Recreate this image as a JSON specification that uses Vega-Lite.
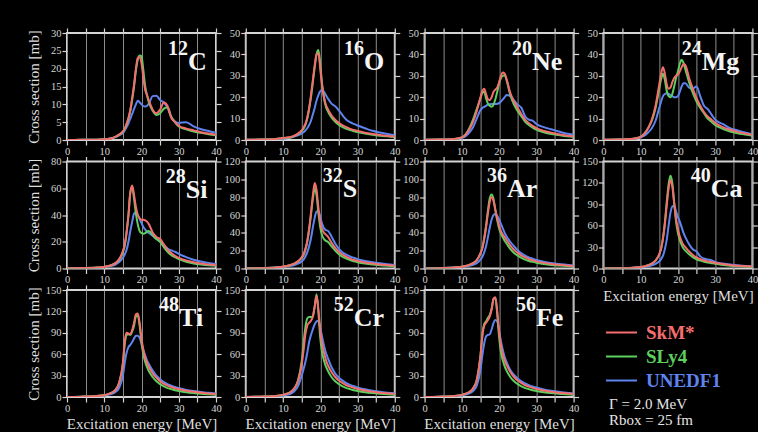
{
"$schema":"https://vega.github.io/schema/vega-lite/v6.json",
"background":"black",
"padding":{"left":24,"top":26,"right":2,"bottom":5},
"datasets":{"d":[
{"n":"C","e":0,"SkM*":0,"SLy4":0,"UNEDF1":0},{"n":"C","e":4,"SkM*":0.05,"SLy4":0.05,"UNEDF1":0.05},{"n":"C","e":8,"SkM*":0.1,"SLy4":0.1,"UNEDF1":0.1},{"n":"C","e":10,"SkM*":0.2,"SLy4":0.2,"UNEDF1":0.2},{"n":"C","e":11,"SkM*":0.3,"SLy4":0.3,"UNEDF1":0.3},{"n":"C","e":12,"SkM*":0.5,"SLy4":0.5,"UNEDF1":0.5},{"n":"C","e":13,"SkM*":0.9,"SLy4":0.9,"UNEDF1":0.8},{"n":"C","e":14,"SkM*":1.5,"SLy4":1.5,"UNEDF1":1.3},{"n":"C","e":15,"SkM*":2.4,"SLy4":2.3,"UNEDF1":2},{"n":"C","e":15.5,"SkM*":3.2,"SLy4":3.1,"UNEDF1":2.7},{"n":"C","e":16,"SkM*":4.5,"SLy4":4.4,"UNEDF1":3.6},{"n":"C","e":16.5,"SkM*":6.2,"SLy4":6,"UNEDF1":4.7},{"n":"C","e":17,"SkM*":8.4,"SLy4":8.2,"UNEDF1":6},{"n":"C","e":17.5,"SkM*":11.8,"SLy4":11.3,"UNEDF1":7.3},{"n":"C","e":18,"SkM*":15.5,"SLy4":15,"UNEDF1":8.7},{"n":"C","e":18.5,"SkM*":20,"SLy4":19.5,"UNEDF1":10},{"n":"C","e":19,"SkM*":23,"SLy4":22.5,"UNEDF1":11},{"n":"C","e":19.5,"SkM*":23.3,"SLy4":23.7,"UNEDF1":10.6},{"n":"C","e":20,"SkM*":21.5,"SLy4":23.5,"UNEDF1":10},{"n":"C","e":20.5,"SkM*":17.5,"SLy4":19.5,"UNEDF1":9.5},{"n":"C","e":21,"SkM*":14,"SLy4":15,"UNEDF1":9.4},{"n":"C","e":21.5,"SkM*":12.5,"SLy4":12.5,"UNEDF1":9.6},{"n":"C","e":22,"SkM*":11,"SLy4":10.5,"UNEDF1":10.3},{"n":"C","e":23,"SkM*":8.5,"SLy4":8.2,"UNEDF1":12.3},{"n":"C","e":24,"SkM*":7.5,"SLy4":7,"UNEDF1":12.4},{"n":"C","e":25,"SkM*":8.5,"SLy4":7.5,"UNEDF1":11.2},{"n":"C","e":26,"SkM*":10.5,"SLy4":8.8,"UNEDF1":10.5},{"n":"C","e":27,"SkM*":9.5,"SLy4":9.2,"UNEDF1":9},{"n":"C","e":28,"SkM*":6.2,"SLy4":6.5,"UNEDF1":6.3},{"n":"C","e":29,"SkM*":5,"SLy4":5,"UNEDF1":5.2},{"n":"C","e":30,"SkM*":4,"SLy4":3.8,"UNEDF1":4.8},{"n":"C","e":32,"SkM*":3.2,"SLy4":3,"UNEDF1":5},{"n":"C","e":34,"SkM*":2.7,"SLy4":2.4,"UNEDF1":3.8},{"n":"C","e":36,"SkM*":2.2,"SLy4":2,"UNEDF1":3},{"n":"C","e":38,"SkM*":1.8,"SLy4":1.6,"UNEDF1":2.5},{"n":"C","e":40,"SkM*":1.5,"SLy4":1.3,"UNEDF1":2},
{"n":"O","e":0,"SkM*":0.1,"SLy4":0.1,"UNEDF1":0.1},{"n":"O","e":4,"SkM*":0.2,"SLy4":0.2,"UNEDF1":0.2},{"n":"O","e":8,"SkM*":0.5,"SLy4":0.5,"UNEDF1":0.4},{"n":"O","e":10,"SkM*":0.9,"SLy4":0.8,"UNEDF1":0.6},{"n":"O","e":11,"SkM*":1.2,"SLy4":1,"UNEDF1":0.8},{"n":"O","e":12,"SkM*":1.4,"SLy4":1.2,"UNEDF1":1.1},{"n":"O","e":13,"SkM*":2,"SLy4":1.8,"UNEDF1":1.6},{"n":"O","e":14,"SkM*":3,"SLy4":2.8,"UNEDF1":2.2},{"n":"O","e":15,"SkM*":4.5,"SLy4":4.2,"UNEDF1":3},{"n":"O","e":15.5,"SkM*":5.8,"SLy4":5.3,"UNEDF1":3.6},{"n":"O","e":16,"SkM*":7.5,"SLy4":7,"UNEDF1":4.5},{"n":"O","e":16.5,"SkM*":10.5,"SLy4":10,"UNEDF1":5.5},{"n":"O","e":17,"SkM*":15,"SLy4":14.5,"UNEDF1":7},{"n":"O","e":17.5,"SkM*":21,"SLy4":20,"UNEDF1":9},{"n":"O","e":18,"SkM*":28,"SLy4":27,"UNEDF1":12},{"n":"O","e":18.5,"SkM*":35,"SLy4":34,"UNEDF1":15},{"n":"O","e":19,"SkM*":40,"SLy4":40,"UNEDF1":18.5},{"n":"O","e":19.5,"SkM*":40.5,"SLy4":42,"UNEDF1":21},{"n":"O","e":20,"SkM*":33,"SLy4":35,"UNEDF1":22.8},{"n":"O","e":20.5,"SkM*":25,"SLy4":26,"UNEDF1":23.3},{"n":"O","e":21,"SkM*":20,"SLy4":19.5,"UNEDF1":22.5},{"n":"O","e":21.5,"SkM*":16.5,"SLy4":15.5,"UNEDF1":21},{"n":"O","e":22,"SkM*":14.5,"SLy4":13.5,"UNEDF1":19.5},{"n":"O","e":23,"SkM*":11.5,"SLy4":10.5,"UNEDF1":17},{"n":"O","e":24,"SkM*":9.5,"SLy4":8.5,"UNEDF1":15.8},{"n":"O","e":25,"SkM*":8,"SLy4":7,"UNEDF1":13.8},{"n":"O","e":26,"SkM*":6.8,"SLy4":6,"UNEDF1":11.5},{"n":"O","e":27,"SkM*":6,"SLy4":5.2,"UNEDF1":9.5},{"n":"O","e":28,"SkM*":5.2,"SLy4":4.6,"UNEDF1":8.3},{"n":"O","e":29,"SkM*":4.7,"SLy4":4.1,"UNEDF1":7.5},{"n":"O","e":30,"SkM*":4.2,"SLy4":3.7,"UNEDF1":6.8},{"n":"O","e":32,"SkM*":3.4,"SLy4":3,"UNEDF1":5.5},{"n":"O","e":34,"SkM*":2.8,"SLy4":2.4,"UNEDF1":4.3},{"n":"O","e":36,"SkM*":2.3,"SLy4":2,"UNEDF1":3.5},{"n":"O","e":38,"SkM*":1.9,"SLy4":1.7,"UNEDF1":2.8},{"n":"O","e":40,"SkM*":1.6,"SLy4":1.4,"UNEDF1":2.2},
{"n":"Ne","e":0,"SkM*":0.1,"SLy4":0.1,"UNEDF1":0.1},{"n":"Ne","e":4,"SkM*":0.2,"SLy4":0.2,"UNEDF1":0.2},{"n":"Ne","e":8,"SkM*":0.5,"SLy4":0.5,"UNEDF1":0.4},{"n":"Ne","e":10,"SkM*":1.2,"SLy4":1.2,"UNEDF1":1},{"n":"Ne","e":11,"SkM*":2.5,"SLy4":2.6,"UNEDF1":1.8},{"n":"Ne","e":12,"SkM*":5,"SLy4":5.5,"UNEDF1":3.5},{"n":"Ne","e":13,"SkM*":8.5,"SLy4":9.5,"UNEDF1":6},{"n":"Ne","e":14,"SkM*":13.5,"SLy4":14.5,"UNEDF1":10},{"n":"Ne","e":15,"SkM*":20,"SLy4":19.5,"UNEDF1":14},{"n":"Ne","e":15.5,"SkM*":23,"SLy4":22,"UNEDF1":15},{"n":"Ne","e":16,"SkM*":24,"SLy4":22.5,"UNEDF1":15.5},{"n":"Ne","e":16.5,"SkM*":21.5,"SLy4":19.5,"UNEDF1":16},{"n":"Ne","e":17,"SkM*":19,"SLy4":17,"UNEDF1":16.5},{"n":"Ne","e":17.5,"SkM*":18.6,"SLy4":16,"UNEDF1":16.7},{"n":"Ne","e":18,"SkM*":20,"SLy4":15.5,"UNEDF1":16.8},{"n":"Ne","e":18.5,"SkM*":22.5,"SLy4":16.5,"UNEDF1":16.8},{"n":"Ne","e":19,"SkM*":23.5,"SLy4":19,"UNEDF1":16.8},{"n":"Ne","e":19.5,"SkM*":24.5,"SLy4":22.5,"UNEDF1":16.9},{"n":"Ne","e":20,"SkM*":27,"SLy4":26.5,"UNEDF1":17.2},{"n":"Ne","e":20.5,"SkM*":30,"SLy4":29,"UNEDF1":18},{"n":"Ne","e":21,"SkM*":31.5,"SLy4":30,"UNEDF1":19},{"n":"Ne","e":21.5,"SkM*":31,"SLy4":30.3,"UNEDF1":20},{"n":"Ne","e":22,"SkM*":28.5,"SLy4":28,"UNEDF1":21},{"n":"Ne","e":23,"SkM*":22,"SLy4":21,"UNEDF1":20.5},{"n":"Ne","e":24,"SkM*":18,"SLy4":16.5,"UNEDF1":18.5},{"n":"Ne","e":25,"SkM*":15,"SLy4":13.5,"UNEDF1":16.5},{"n":"Ne","e":26,"SkM*":12,"SLy4":11,"UNEDF1":15},{"n":"Ne","e":27,"SkM*":9.5,"SLy4":8.5,"UNEDF1":11},{"n":"Ne","e":28,"SkM*":7.8,"SLy4":7,"UNEDF1":9.5},{"n":"Ne","e":29,"SkM*":6.6,"SLy4":5.8,"UNEDF1":9},{"n":"Ne","e":30,"SkM*":5.6,"SLy4":4.8,"UNEDF1":7.5},{"n":"Ne","e":32,"SkM*":4.2,"SLy4":3.6,"UNEDF1":6},{"n":"Ne","e":34,"SkM*":3.4,"SLy4":2.8,"UNEDF1":5},{"n":"Ne","e":36,"SkM*":2.7,"SLy4":2.3,"UNEDF1":4},{"n":"Ne","e":38,"SkM*":2.1,"SLy4":1.8,"UNEDF1":3},{"n":"Ne","e":40,"SkM*":1.7,"SLy4":1.5,"UNEDF1":2.5},
{"n":"Mg","e":0,"SkM*":0.1,"SLy4":0.1,"UNEDF1":0.1},{"n":"Mg","e":4,"SkM*":0.2,"SLy4":0.2,"UNEDF1":0.2},{"n":"Mg","e":8,"SkM*":0.6,"SLy4":0.6,"UNEDF1":0.5},{"n":"Mg","e":10,"SkM*":1.5,"SLy4":1.5,"UNEDF1":1.2},{"n":"Mg","e":11,"SkM*":3,"SLy4":3,"UNEDF1":2},{"n":"Mg","e":12,"SkM*":5.5,"SLy4":5.5,"UNEDF1":3.5},{"n":"Mg","e":13,"SkM*":9.5,"SLy4":9,"UNEDF1":5.5},{"n":"Mg","e":14,"SkM*":16,"SLy4":15,"UNEDF1":9},{"n":"Mg","e":15,"SkM*":26,"SLy4":24,"UNEDF1":15},{"n":"Mg","e":15.5,"SkM*":31,"SLy4":28.5,"UNEDF1":18},{"n":"Mg","e":16,"SkM*":34,"SLy4":31,"UNEDF1":20.5},{"n":"Mg","e":16.5,"SkM*":31,"SLy4":28,"UNEDF1":21.5},{"n":"Mg","e":17,"SkM*":26,"SLy4":23,"UNEDF1":21.8},{"n":"Mg","e":17.5,"SkM*":24,"SLy4":20.5,"UNEDF1":21.5},{"n":"Mg","e":18,"SkM*":24.5,"SLy4":20,"UNEDF1":21},{"n":"Mg","e":18.5,"SkM*":27,"SLy4":21.5,"UNEDF1":20.5},{"n":"Mg","e":19,"SkM*":29,"SLy4":25,"UNEDF1":20},{"n":"Mg","e":19.5,"SkM*":30,"SLy4":29,"UNEDF1":20},{"n":"Mg","e":20,"SkM*":30.5,"SLy4":32,"UNEDF1":20.5},{"n":"Mg","e":20.5,"SkM*":32,"SLy4":35.5,"UNEDF1":22.5},{"n":"Mg","e":21,"SkM*":34,"SLy4":37.5,"UNEDF1":25},{"n":"Mg","e":21.5,"SkM*":35.5,"SLy4":36,"UNEDF1":26.5},{"n":"Mg","e":22,"SkM*":35,"SLy4":33,"UNEDF1":26.5},{"n":"Mg","e":23,"SkM*":29,"SLy4":27,"UNEDF1":24.5},{"n":"Mg","e":24,"SkM*":24,"SLy4":22,"UNEDF1":24},{"n":"Mg","e":25,"SkM*":19.5,"SLy4":18,"UNEDF1":25},{"n":"Mg","e":26,"SkM*":16,"SLy4":15,"UNEDF1":20.5},{"n":"Mg","e":27,"SkM*":13,"SLy4":12.5,"UNEDF1":16},{"n":"Mg","e":28,"SkM*":11,"SLy4":10,"UNEDF1":14.5},{"n":"Mg","e":29,"SkM*":9.5,"SLy4":8.5,"UNEDF1":12},{"n":"Mg","e":30,"SkM*":8,"SLy4":7,"UNEDF1":9.5},{"n":"Mg","e":32,"SkM*":6,"SLy4":5.2,"UNEDF1":7.5},{"n":"Mg","e":34,"SkM*":4.8,"SLy4":4,"UNEDF1":5.5},{"n":"Mg","e":36,"SkM*":3.8,"SLy4":3.2,"UNEDF1":4.5},{"n":"Mg","e":38,"SkM*":3,"SLy4":2.6,"UNEDF1":3.5},{"n":"Mg","e":40,"SkM*":2.4,"SLy4":2,"UNEDF1":2.7},
{"n":"Si","e":0,"SkM*":0.1,"SLy4":0.1,"UNEDF1":0.1},{"n":"Si","e":4,"SkM*":0.3,"SLy4":0.3,"UNEDF1":0.3},{"n":"Si","e":8,"SkM*":0.7,"SLy4":0.7,"UNEDF1":0.6},{"n":"Si","e":10,"SkM*":1.2,"SLy4":1.2,"UNEDF1":1},{"n":"Si","e":11,"SkM*":1.8,"SLy4":1.8,"UNEDF1":1.4},{"n":"Si","e":12,"SkM*":2.6,"SLy4":2.6,"UNEDF1":2},{"n":"Si","e":13,"SkM*":4,"SLy4":4,"UNEDF1":3},{"n":"Si","e":14,"SkM*":7,"SLy4":6.5,"UNEDF1":4.8},{"n":"Si","e":15,"SkM*":13,"SLy4":12,"UNEDF1":8},{"n":"Si","e":15.5,"SkM*":18,"SLy4":17,"UNEDF1":10.5},{"n":"Si","e":16,"SkM*":27,"SLy4":27,"UNEDF1":14},{"n":"Si","e":16.5,"SkM*":40,"SLy4":40,"UNEDF1":20},{"n":"Si","e":17,"SkM*":57,"SLy4":57,"UNEDF1":28},{"n":"Si","e":17.5,"SkM*":62,"SLy4":61,"UNEDF1":35},{"n":"Si","e":18,"SkM*":55,"SLy4":52,"UNEDF1":41},{"n":"Si","e":18.5,"SkM*":46,"SLy4":41,"UNEDF1":42},{"n":"Si","e":19,"SkM*":40,"SLy4":33,"UNEDF1":40},{"n":"Si","e":19.5,"SkM*":37.5,"SLy4":28,"UNEDF1":37},{"n":"Si","e":20,"SkM*":36.5,"SLy4":26.5,"UNEDF1":34},{"n":"Si","e":20.5,"SkM*":36.5,"SLy4":26,"UNEDF1":31},{"n":"Si","e":21,"SkM*":36,"SLy4":26.5,"UNEDF1":29},{"n":"Si","e":21.5,"SkM*":35,"SLy4":27.5,"UNEDF1":27.5},{"n":"Si","e":22,"SkM*":33,"SLy4":28,"UNEDF1":26.5},{"n":"Si","e":23,"SkM*":27,"SLy4":25,"UNEDF1":24.5},{"n":"Si","e":24,"SkM*":23.5,"SLy4":22,"UNEDF1":22},{"n":"Si","e":25,"SkM*":22,"SLy4":20,"UNEDF1":20},{"n":"Si","e":26,"SkM*":18,"SLy4":16,"UNEDF1":17.5},{"n":"Si","e":27,"SkM*":14,"SLy4":12.5,"UNEDF1":15},{"n":"Si","e":28,"SkM*":11.5,"SLy4":10,"UNEDF1":13.5},{"n":"Si","e":29,"SkM*":9.5,"SLy4":8.5,"UNEDF1":12.5},{"n":"Si","e":30,"SkM*":8,"SLy4":7,"UNEDF1":11},{"n":"Si","e":32,"SkM*":6,"SLy4":5,"UNEDF1":8.5},{"n":"Si","e":34,"SkM*":4.7,"SLy4":3.8,"UNEDF1":6.5},{"n":"Si","e":36,"SkM*":3.8,"SLy4":3,"UNEDF1":5.2},{"n":"Si","e":38,"SkM*":3,"SLy4":2.4,"UNEDF1":4.2},{"n":"Si","e":40,"SkM*":2.4,"SLy4":2,"UNEDF1":3.4},
{"n":"S","e":0,"SkM*":0.1,"SLy4":0.1,"UNEDF1":0.1},{"n":"S","e":4,"SkM*":0.4,"SLy4":0.4,"UNEDF1":0.3},{"n":"S","e":8,"SkM*":1.2,"SLy4":1.2,"UNEDF1":1},{"n":"S","e":10,"SkM*":2,"SLy4":2,"UNEDF1":1.5},{"n":"S","e":11,"SkM*":2.8,"SLy4":2.8,"UNEDF1":2.2},{"n":"S","e":12,"SkM*":4,"SLy4":4,"UNEDF1":3},{"n":"S","e":13,"SkM*":5.5,"SLy4":5.5,"UNEDF1":4},{"n":"S","e":14,"SkM*":8,"SLy4":8,"UNEDF1":5.5},{"n":"S","e":15,"SkM*":12.5,"SLy4":12,"UNEDF1":8},{"n":"S","e":15.5,"SkM*":16,"SLy4":15,"UNEDF1":10},{"n":"S","e":16,"SkM*":22,"SLy4":21,"UNEDF1":13.5},{"n":"S","e":16.5,"SkM*":31,"SLy4":30,"UNEDF1":18},{"n":"S","e":17,"SkM*":45,"SLy4":43,"UNEDF1":25},{"n":"S","e":17.5,"SkM*":63,"SLy4":60,"UNEDF1":34},{"n":"S","e":18,"SkM*":82,"SLy4":78,"UNEDF1":46},{"n":"S","e":18.5,"SkM*":96,"SLy4":90,"UNEDF1":57},{"n":"S","e":19,"SkM*":88,"SLy4":82,"UNEDF1":64},{"n":"S","e":19.5,"SkM*":68,"SLy4":62,"UNEDF1":64},{"n":"S","e":20,"SkM*":52,"SLy4":46,"UNEDF1":58},{"n":"S","e":20.5,"SkM*":44,"SLy4":37,"UNEDF1":50},{"n":"S","e":21,"SkM*":40,"SLy4":33,"UNEDF1":45},{"n":"S","e":21.5,"SkM*":38,"SLy4":31,"UNEDF1":43},{"n":"S","e":22,"SkM*":36,"SLy4":30,"UNEDF1":42.5},{"n":"S","e":23,"SkM*":29,"SLy4":25,"UNEDF1":36},{"n":"S","e":24,"SkM*":23,"SLy4":20,"UNEDF1":28},{"n":"S","e":25,"SkM*":18.5,"SLy4":16,"UNEDF1":22},{"n":"S","e":26,"SkM*":15.5,"SLy4":13,"UNEDF1":18},{"n":"S","e":27,"SkM*":13,"SLy4":11,"UNEDF1":15.5},{"n":"S","e":28,"SkM*":11,"SLy4":9.5,"UNEDF1":13.5},{"n":"S","e":29,"SkM*":9.5,"SLy4":8,"UNEDF1":12},{"n":"S","e":30,"SkM*":8.5,"SLy4":7,"UNEDF1":10.5},{"n":"S","e":32,"SkM*":6.8,"SLy4":5.5,"UNEDF1":8.5},{"n":"S","e":34,"SkM*":5.5,"SLy4":4.4,"UNEDF1":7},{"n":"S","e":36,"SkM*":4.5,"SLy4":3.6,"UNEDF1":5.8},{"n":"S","e":38,"SkM*":3.8,"SLy4":3,"UNEDF1":4.8},{"n":"S","e":40,"SkM*":3.2,"SLy4":2.5,"UNEDF1":4},
{"n":"Ar","e":0,"SkM*":0.1,"SLy4":0.1,"UNEDF1":0.1},{"n":"Ar","e":4,"SkM*":0.4,"SLy4":0.4,"UNEDF1":0.3},{"n":"Ar","e":8,"SkM*":1.2,"SLy4":1.2,"UNEDF1":1},{"n":"Ar","e":10,"SkM*":2,"SLy4":2,"UNEDF1":1.6},{"n":"Ar","e":11,"SkM*":2.8,"SLy4":2.8,"UNEDF1":2.2},{"n":"Ar","e":12,"SkM*":4,"SLy4":4,"UNEDF1":3},{"n":"Ar","e":13,"SkM*":6,"SLy4":6,"UNEDF1":4.2},{"n":"Ar","e":14,"SkM*":9.5,"SLy4":9.5,"UNEDF1":6},{"n":"Ar","e":15,"SkM*":17,"SLy4":17,"UNEDF1":10},{"n":"Ar","e":15.5,"SkM*":23,"SLy4":23,"UNEDF1":13},{"n":"Ar","e":16,"SkM*":33,"SLy4":34,"UNEDF1":18},{"n":"Ar","e":16.5,"SkM*":46,"SLy4":48,"UNEDF1":25},{"n":"Ar","e":17,"SkM*":62,"SLy4":65,"UNEDF1":35},{"n":"Ar","e":17.5,"SkM*":75,"SLy4":79,"UNEDF1":46},{"n":"Ar","e":18,"SkM*":80,"SLy4":83,"UNEDF1":55},{"n":"Ar","e":18.5,"SkM*":76,"SLy4":78,"UNEDF1":60},{"n":"Ar","e":19,"SkM*":66,"SLy4":65,"UNEDF1":61},{"n":"Ar","e":19.5,"SkM*":56,"SLy4":54,"UNEDF1":59},{"n":"Ar","e":20,"SkM*":48,"SLy4":45,"UNEDF1":55},{"n":"Ar","e":20.5,"SkM*":42,"SLy4":39,"UNEDF1":50},{"n":"Ar","e":21,"SkM*":38,"SLy4":35,"UNEDF1":45},{"n":"Ar","e":21.5,"SkM*":35,"SLy4":31,"UNEDF1":40},{"n":"Ar","e":22,"SkM*":32,"SLy4":28,"UNEDF1":36},{"n":"Ar","e":23,"SkM*":26,"SLy4":22,"UNEDF1":30},{"n":"Ar","e":24,"SkM*":21,"SLy4":17.5,"UNEDF1":25},{"n":"Ar","e":25,"SkM*":17.5,"SLy4":14.5,"UNEDF1":20.5},{"n":"Ar","e":26,"SkM*":14.5,"SLy4":12,"UNEDF1":17},{"n":"Ar","e":27,"SkM*":12.5,"SLy4":10,"UNEDF1":14.5},{"n":"Ar","e":28,"SkM*":10.5,"SLy4":8.5,"UNEDF1":12.5},{"n":"Ar","e":29,"SkM*":9.2,"SLy4":7.4,"UNEDF1":11},{"n":"Ar","e":30,"SkM*":8,"SLy4":6.5,"UNEDF1":9.5},{"n":"Ar","e":32,"SkM*":6.3,"SLy4":5,"UNEDF1":7.5},{"n":"Ar","e":34,"SkM*":5.1,"SLy4":4,"UNEDF1":6.2},{"n":"Ar","e":36,"SkM*":4.2,"SLy4":3.3,"UNEDF1":5},{"n":"Ar","e":38,"SkM*":3.5,"SLy4":2.7,"UNEDF1":4.2},{"n":"Ar","e":40,"SkM*":2.9,"SLy4":2.3,"UNEDF1":3.5},
{"n":"Ca","e":0,"SkM*":0.1,"SLy4":0.1,"UNEDF1":0.1},{"n":"Ca","e":4,"SkM*":0.4,"SLy4":0.4,"UNEDF1":0.3},{"n":"Ca","e":8,"SkM*":1.2,"SLy4":1.2,"UNEDF1":0.9},{"n":"Ca","e":10,"SkM*":2,"SLy4":2,"UNEDF1":1.5},{"n":"Ca","e":11,"SkM*":3,"SLy4":3,"UNEDF1":2.2},{"n":"Ca","e":12,"SkM*":4.5,"SLy4":4.5,"UNEDF1":3.2},{"n":"Ca","e":13,"SkM*":7,"SLy4":7,"UNEDF1":4.5},{"n":"Ca","e":14,"SkM*":11,"SLy4":11,"UNEDF1":6.5},{"n":"Ca","e":15,"SkM*":20,"SLy4":20,"UNEDF1":10},{"n":"Ca","e":15.5,"SkM*":28,"SLy4":28,"UNEDF1":13},{"n":"Ca","e":16,"SkM*":42,"SLy4":43,"UNEDF1":18},{"n":"Ca","e":16.5,"SkM*":62,"SLy4":65,"UNEDF1":27},{"n":"Ca","e":17,"SkM*":88,"SLy4":93,"UNEDF1":40},{"n":"Ca","e":17.5,"SkM*":112,"SLy4":118,"UNEDF1":60},{"n":"Ca","e":18,"SkM*":124,"SLy4":130,"UNEDF1":78},{"n":"Ca","e":18.5,"SkM*":115,"SLy4":120,"UNEDF1":87},{"n":"Ca","e":19,"SkM*":92,"SLy4":92,"UNEDF1":88},{"n":"Ca","e":19.5,"SkM*":70,"SLy4":66,"UNEDF1":80},{"n":"Ca","e":20,"SkM*":55,"SLy4":50,"UNEDF1":72},{"n":"Ca","e":20.5,"SkM*":45,"SLy4":40,"UNEDF1":66},{"n":"Ca","e":21,"SkM*":38,"SLy4":33,"UNEDF1":58},{"n":"Ca","e":21.5,"SkM*":33,"SLy4":28,"UNEDF1":50},{"n":"Ca","e":22,"SkM*":30,"SLy4":25,"UNEDF1":44},{"n":"Ca","e":23,"SkM*":24,"SLy4":20,"UNEDF1":34},{"n":"Ca","e":24,"SkM*":19,"SLy4":16,"UNEDF1":27},{"n":"Ca","e":25,"SkM*":15.5,"SLy4":13,"UNEDF1":24},{"n":"Ca","e":26,"SkM*":13,"SLy4":11,"UNEDF1":17},{"n":"Ca","e":27,"SkM*":11.5,"SLy4":9.5,"UNEDF1":14},{"n":"Ca","e":28,"SkM*":10,"SLy4":8.5,"UNEDF1":12.5},{"n":"Ca","e":29,"SkM*":9,"SLy4":7.5,"UNEDF1":11.5},{"n":"Ca","e":30,"SkM*":8,"SLy4":6.5,"UNEDF1":9},{"n":"Ca","e":32,"SkM*":6.3,"SLy4":5,"UNEDF1":7},{"n":"Ca","e":34,"SkM*":5,"SLy4":4,"UNEDF1":5.5},{"n":"Ca","e":36,"SkM*":4,"SLy4":3.3,"UNEDF1":4.5},{"n":"Ca","e":38,"SkM*":3.3,"SLy4":2.7,"UNEDF1":3.5},{"n":"Ca","e":40,"SkM*":2.7,"SLy4":2.2,"UNEDF1":2.8},
{"n":"Ti","e":0,"SkM*":0.1,"SLy4":0.1,"UNEDF1":0.1},{"n":"Ti","e":4,"SkM*":0.5,"SLy4":0.5,"UNEDF1":0.4},{"n":"Ti","e":8,"SkM*":1.5,"SLy4":1.5,"UNEDF1":1.2},{"n":"Ti","e":10,"SkM*":2.5,"SLy4":2.5,"UNEDF1":2},{"n":"Ti","e":11,"SkM*":4,"SLy4":4,"UNEDF1":3},{"n":"Ti","e":12,"SkM*":6,"SLy4":6,"UNEDF1":4.5},{"n":"Ti","e":13,"SkM*":10,"SLy4":10,"UNEDF1":7},{"n":"Ti","e":14,"SkM*":20,"SLy4":20,"UNEDF1":13},{"n":"Ti","e":15,"SkM*":48,"SLy4":46,"UNEDF1":30},{"n":"Ti","e":15.5,"SkM*":78,"SLy4":74,"UNEDF1":48},{"n":"Ti","e":16,"SkM*":90,"SLy4":87,"UNEDF1":62},{"n":"Ti","e":16.5,"SkM*":89,"SLy4":88,"UNEDF1":70},{"n":"Ti","e":17,"SkM*":88,"SLy4":87,"UNEDF1":73},{"n":"Ti","e":17.5,"SkM*":94,"SLy4":92,"UNEDF1":77},{"n":"Ti","e":18,"SkM*":104,"SLy4":100,"UNEDF1":82},{"n":"Ti","e":18.5,"SkM*":116,"SLy4":113,"UNEDF1":86},{"n":"Ti","e":19,"SkM*":117,"SLy4":114,"UNEDF1":86},{"n":"Ti","e":19.5,"SkM*":104,"SLy4":100,"UNEDF1":83},{"n":"Ti","e":20,"SkM*":82,"SLy4":76,"UNEDF1":75},{"n":"Ti","e":20.5,"SkM*":66,"SLy4":60,"UNEDF1":66},{"n":"Ti","e":21,"SkM*":55,"SLy4":49,"UNEDF1":58},{"n":"Ti","e":21.5,"SkM*":48,"SLy4":42,"UNEDF1":51},{"n":"Ti","e":22,"SkM*":42,"SLy4":36,"UNEDF1":46},{"n":"Ti","e":23,"SkM*":33,"SLy4":28,"UNEDF1":37},{"n":"Ti","e":24,"SkM*":27,"SLy4":22,"UNEDF1":30},{"n":"Ti","e":25,"SkM*":22,"SLy4":18,"UNEDF1":25},{"n":"Ti","e":26,"SkM*":18.5,"SLy4":15,"UNEDF1":21},{"n":"Ti","e":27,"SkM*":16,"SLy4":12.5,"UNEDF1":18},{"n":"Ti","e":28,"SkM*":14,"SLy4":11,"UNEDF1":16},{"n":"Ti","e":29,"SkM*":12.3,"SLy4":9.5,"UNEDF1":14},{"n":"Ti","e":30,"SkM*":11,"SLy4":8.5,"UNEDF1":12.5},{"n":"Ti","e":32,"SkM*":8.8,"SLy4":6.8,"UNEDF1":10},{"n":"Ti","e":34,"SkM*":7.2,"SLy4":5.5,"UNEDF1":8.3},{"n":"Ti","e":36,"SkM*":6,"SLy4":4.5,"UNEDF1":7},{"n":"Ti","e":38,"SkM*":5,"SLy4":3.8,"UNEDF1":5.8},{"n":"Ti","e":40,"SkM*":4.2,"SLy4":3.2,"UNEDF1":5},
{"n":"Cr","e":0,"SkM*":0.1,"SLy4":0.1,"UNEDF1":0.1},{"n":"Cr","e":4,"SkM*":0.5,"SLy4":0.5,"UNEDF1":0.4},{"n":"Cr","e":8,"SkM*":1.5,"SLy4":1.5,"UNEDF1":1.2},{"n":"Cr","e":10,"SkM*":3,"SLy4":3,"UNEDF1":2.2},{"n":"Cr","e":11,"SkM*":4.5,"SLy4":4.5,"UNEDF1":3.2},{"n":"Cr","e":12,"SkM*":7,"SLy4":7,"UNEDF1":4.5},{"n":"Cr","e":13,"SkM*":12,"SLy4":12,"UNEDF1":8},{"n":"Cr","e":14,"SkM*":22,"SLy4":23,"UNEDF1":15},{"n":"Cr","e":15,"SkM*":45,"SLy4":50,"UNEDF1":30},{"n":"Cr","e":15.5,"SkM*":65,"SLy4":75,"UNEDF1":39},{"n":"Cr","e":16,"SkM*":88,"SLy4":98,"UNEDF1":49},{"n":"Cr","e":16.5,"SkM*":100,"SLy4":110,"UNEDF1":62},{"n":"Cr","e":17,"SkM*":104,"SLy4":112,"UNEDF1":77},{"n":"Cr","e":17.5,"SkM*":107,"SLy4":112,"UNEDF1":87},{"n":"Cr","e":18,"SkM*":113,"SLy4":113,"UNEDF1":95},{"n":"Cr","e":18.5,"SkM*":127,"SLy4":127,"UNEDF1":102},{"n":"Cr","e":19,"SkM*":142,"SLy4":144,"UNEDF1":106},{"n":"Cr","e":19.5,"SkM*":122,"SLy4":118,"UNEDF1":107},{"n":"Cr","e":20,"SkM*":92,"SLy4":82,"UNEDF1":97},{"n":"Cr","e":20.5,"SkM*":74,"SLy4":62,"UNEDF1":84},{"n":"Cr","e":21,"SkM*":62,"SLy4":51,"UNEDF1":72},{"n":"Cr","e":21.5,"SkM*":52,"SLy4":43,"UNEDF1":62},{"n":"Cr","e":22,"SkM*":45,"SLy4":37,"UNEDF1":55},{"n":"Cr","e":23,"SkM*":35,"SLy4":28,"UNEDF1":42},{"n":"Cr","e":24,"SkM*":28,"SLy4":22,"UNEDF1":33},{"n":"Cr","e":25,"SkM*":23,"SLy4":18,"UNEDF1":27},{"n":"Cr","e":26,"SkM*":19.5,"SLy4":15,"UNEDF1":23},{"n":"Cr","e":27,"SkM*":16.5,"SLy4":12.5,"UNEDF1":19.5},{"n":"Cr","e":28,"SkM*":14.5,"SLy4":11,"UNEDF1":17},{"n":"Cr","e":29,"SkM*":12.8,"SLy4":9.5,"UNEDF1":15},{"n":"Cr","e":30,"SkM*":11.3,"SLy4":8.5,"UNEDF1":13.5},{"n":"Cr","e":32,"SkM*":9,"SLy4":6.8,"UNEDF1":10.8},{"n":"Cr","e":34,"SkM*":7.4,"SLy4":5.5,"UNEDF1":8.8},{"n":"Cr","e":36,"SkM*":6.1,"SLy4":4.5,"UNEDF1":7.3},{"n":"Cr","e":38,"SkM*":5.1,"SLy4":3.7,"UNEDF1":6.1},{"n":"Cr","e":40,"SkM*":4.3,"SLy4":3.1,"UNEDF1":5.1},
{"n":"Fe","e":0,"SkM*":0.1,"SLy4":0.1,"UNEDF1":0.1},{"n":"Fe","e":4,"SkM*":0.5,"SLy4":0.5,"UNEDF1":0.4},{"n":"Fe","e":8,"SkM*":1.5,"SLy4":1.5,"UNEDF1":1.2},{"n":"Fe","e":10,"SkM*":3,"SLy4":3,"UNEDF1":2.3},{"n":"Fe","e":11,"SkM*":4.5,"SLy4":4.5,"UNEDF1":3.3},{"n":"Fe","e":12,"SkM*":7,"SLy4":7,"UNEDF1":5},{"n":"Fe","e":13,"SkM*":12,"SLy4":12,"UNEDF1":8.5},{"n":"Fe","e":14,"SkM*":24,"SLy4":24,"UNEDF1":16},{"n":"Fe","e":15,"SkM*":58,"SLy4":58,"UNEDF1":38},{"n":"Fe","e":15.5,"SkM*":85,"SLy4":87,"UNEDF1":58},{"n":"Fe","e":16,"SkM*":100,"SLy4":102,"UNEDF1":75},{"n":"Fe","e":16.5,"SkM*":104,"SLy4":106,"UNEDF1":85},{"n":"Fe","e":17,"SkM*":108,"SLy4":111,"UNEDF1":87},{"n":"Fe","e":17.5,"SkM*":113,"SLy4":115,"UNEDF1":88},{"n":"Fe","e":18,"SkM*":123,"SLy4":124,"UNEDF1":95},{"n":"Fe","e":18.5,"SkM*":138,"SLy4":137,"UNEDF1":104},{"n":"Fe","e":19,"SkM*":140,"SLy4":139,"UNEDF1":108},{"n":"Fe","e":19.5,"SkM*":120,"SLy4":116,"UNEDF1":106},{"n":"Fe","e":20,"SkM*":92,"SLy4":84,"UNEDF1":93},{"n":"Fe","e":20.5,"SkM*":72,"SLy4":63,"UNEDF1":78},{"n":"Fe","e":21,"SkM*":60,"SLy4":51,"UNEDF1":66},{"n":"Fe","e":21.5,"SkM*":51,"SLy4":43,"UNEDF1":56},{"n":"Fe","e":22,"SkM*":45,"SLy4":37,"UNEDF1":49},{"n":"Fe","e":23,"SkM*":35,"SLy4":28,"UNEDF1":38},{"n":"Fe","e":24,"SkM*":28,"SLy4":22,"UNEDF1":31},{"n":"Fe","e":25,"SkM*":23,"SLy4":18,"UNEDF1":26},{"n":"Fe","e":26,"SkM*":19.5,"SLy4":15,"UNEDF1":22},{"n":"Fe","e":27,"SkM*":16.5,"SLy4":12.5,"UNEDF1":19},{"n":"Fe","e":28,"SkM*":14.5,"SLy4":11,"UNEDF1":16.5},{"n":"Fe","e":29,"SkM*":12.8,"SLy4":9.5,"UNEDF1":14.8},{"n":"Fe","e":30,"SkM*":11.3,"SLy4":8.5,"UNEDF1":13.2},{"n":"Fe","e":32,"SkM*":9,"SLy4":6.8,"UNEDF1":10.6},{"n":"Fe","e":34,"SkM*":7.4,"SLy4":5.5,"UNEDF1":8.7},{"n":"Fe","e":36,"SkM*":6.1,"SLy4":4.5,"UNEDF1":7.2},{"n":"Fe","e":38,"SkM*":5.1,"SLy4":3.7,"UNEDF1":6},{"n":"Fe","e":40,"SkM*":4.3,"SLy4":3.1,"UNEDF1":5}
]},
"columns":4,
"spacing":{"row":21.5,"column":29.8},
"bounds":"flush",
"resolve":{"scale":{"x":"independent","y":"independent","color":"shared"}},
"concat":[
{"width":149,"height":107,"resolve":{"axis":{"x":"independent","y":"independent"}},"layer":[
 {"data":{"name":"d"},"transform":[{"filter":"datum.n === 'C'"},{"fold":["UNEDF1","SLy4","SkM*"],"as":["k","v"]}],
  "mark":{"type":"line","interpolate":"monotone","strokeWidth":2,"clip":true},
  "encoding":{"x":{"field":"e","type":"quantitative","scale":{"domain":[0,40],"nice":false},"axis":{"values":[0,5,10,15,20,25,30,35,40],"labelExpr":"datum.value % 10 === 0 ? datum.label : ''","grid":true,"title":null}},
   "y":{"field":"v","type":"quantitative","scale":{"domain":[0,30],"nice":false},"axis":{"values":[0,5,10,15,20,25,30],"grid":false,"title":"Cross section [mb]","titleX":-34,"titleY":53.5,"titleAngle":-90,"titleAlign":"center","titleBaseline":"middle"}},
   "color":{"field":"k","type":"nominal","scale":{"domain":["SkM*","SLy4","UNEDF1"],"range":["#f46e6e","#5ccf5c","#5f84f0"]},
    "legend":{"orient":"none","legendX":542,"legendY":287,"title":["Γ = 2.0 MeV","Rbox = 25 fm"],"titleOrient":"bottom","titleAnchor":"start","titleFont":"Liberation Serif","titleFontSize":15,"titleFontWeight":"normal","titleColor":"#e6e6e6","titlePadding":6,"titleLineHeight":16,"labelFont":"Liberation Serif","labelFontSize":19,"labelFontWeight":"bold","labelOffset":12,"symbolType":"M-1.35,0H1.35","symbolSize":529,"symbolStrokeWidth":2,"rowPadding":1,"encode":{"labels":{"update":{"fill":{"scale":"color","field":"value"},"font":{"value":"Liberation Serif"},"fontWeight":{"value":"bold"}}}}}}}},
 {"data":{"values":[{"t":"12"}]},"mark":{"type":"text","align":"right","baseline":"alphabetic","dy":-15,"font":"Liberation Serif","fontWeight":"bold","fontSize":20,"color":"#f4f4f4"},
  "encoding":{"text":{"field":"t"},"x":{"datum":32.5,"axis":null},"y":{"datum":19.6,"axis":null}}},
 {"data":{"values":[{"t":"C"}]},"mark":{"type":"text","align":"left","baseline":"alphabetic","font":"Liberation Serif","fontWeight":"bold","fontSize":26,"color":"#f4f4f4"},
  "encoding":{"text":{"field":"t"},"x":{"datum":32.5,"axis":{"orient":"top","values":[0,5,10,15,20,25,30,35,40],"labels":false,"grid":false,"title":null}},"y":{"datum":19.6,"axis":{"orient":"right","values":[0,5,10,15,20,25,30],"labels":false,"grid":false,"title":null}}}}
]},
{"width":149,"height":107,"resolve":{"axis":{"x":"independent","y":"independent"}},"layer":[
 {"data":{"name":"d"},"transform":[{"filter":"datum.n === 'O'"},{"fold":["UNEDF1","SLy4","SkM*"],"as":["k","v"]}],
  "mark":{"type":"line","interpolate":"monotone","strokeWidth":2,"clip":true},
  "encoding":{"x":{"field":"e","type":"quantitative","scale":{"domain":[0,40],"nice":false},"axis":{"values":[0,5,10,15,20,25,30,35,40],"labelExpr":"datum.value % 10 === 0 ? datum.label : ''","grid":true,"title":null}},
   "y":{"field":"v","type":"quantitative","scale":{"domain":[0,50],"nice":false},"axis":{"values":[0,10,20,30,40,50],"grid":false,"title":null}},
   "color":{"field":"k","type":"nominal","scale":{"domain":["SkM*","SLy4","UNEDF1"],"range":["#f46e6e","#5ccf5c","#5f84f0"]},"legend":null}}},
 {"data":{"values":[{"t":"16"}]},"mark":{"type":"text","align":"right","baseline":"alphabetic","dy":-15,"font":"Liberation Serif","fontWeight":"bold","fontSize":20,"color":"#f4f4f4"},
  "encoding":{"text":{"field":"t"},"x":{"datum":31.7,"axis":null},"y":{"datum":32.7,"axis":null}}},
 {"data":{"values":[{"t":"O"}]},"mark":{"type":"text","align":"left","baseline":"alphabetic","font":"Liberation Serif","fontWeight":"bold","fontSize":26,"color":"#f4f4f4"},
  "encoding":{"text":{"field":"t"},"x":{"datum":31.7,"axis":{"orient":"top","values":[0,5,10,15,20,25,30,35,40],"labels":false,"grid":false,"title":null}},"y":{"datum":32.7,"axis":{"orient":"right","values":[0,10,20,30,40,50],"labels":false,"grid":false,"title":null}}}}
]},
{"width":149,"height":107,"resolve":{"axis":{"x":"independent","y":"independent"}},"layer":[
 {"data":{"name":"d"},"transform":[{"filter":"datum.n === 'Ne'"},{"fold":["UNEDF1","SLy4","SkM*"],"as":["k","v"]}],
  "mark":{"type":"line","interpolate":"monotone","strokeWidth":2,"clip":true},
  "encoding":{"x":{"field":"e","type":"quantitative","scale":{"domain":[0,40],"nice":false},"axis":{"values":[0,5,10,15,20,25,30,35,40],"labelExpr":"datum.value % 10 === 0 ? datum.label : ''","grid":true,"title":null}},
   "y":{"field":"v","type":"quantitative","scale":{"domain":[0,50],"nice":false},"axis":{"values":[0,10,20,30,40,50],"grid":false,"title":null}},
   "color":{"field":"k","type":"nominal","scale":{"domain":["SkM*","SLy4","UNEDF1"],"range":["#f46e6e","#5ccf5c","#5f84f0"]},"legend":null}}},
 {"data":{"values":[{"t":"20"}]},"mark":{"type":"text","align":"right","baseline":"alphabetic","dy":-15,"font":"Liberation Serif","fontWeight":"bold","fontSize":20,"color":"#f4f4f4"},
  "encoding":{"text":{"field":"t"},"x":{"datum":28.8,"axis":null},"y":{"datum":32.7,"axis":null}}},
 {"data":{"values":[{"t":"Ne"}]},"mark":{"type":"text","align":"left","baseline":"alphabetic","font":"Liberation Serif","fontWeight":"bold","fontSize":26,"color":"#f4f4f4"},
  "encoding":{"text":{"field":"t"},"x":{"datum":28.8,"axis":{"orient":"top","values":[0,5,10,15,20,25,30,35,40],"labels":false,"grid":false,"title":null}},"y":{"datum":32.7,"axis":{"orient":"right","values":[0,10,20,30,40,50],"labels":false,"grid":false,"title":null}}}}
]},
{"width":149,"height":107,"resolve":{"axis":{"x":"independent","y":"independent"}},"layer":[
 {"data":{"name":"d"},"transform":[{"filter":"datum.n === 'Mg'"},{"fold":["UNEDF1","SLy4","SkM*"],"as":["k","v"]}],
  "mark":{"type":"line","interpolate":"monotone","strokeWidth":2,"clip":true},
  "encoding":{"x":{"field":"e","type":"quantitative","scale":{"domain":[0,40],"nice":false},"axis":{"values":[0,5,10,15,20,25,30,35,40],"labelExpr":"datum.value % 10 === 0 ? datum.label : ''","grid":true,"title":null}},
   "y":{"field":"v","type":"quantitative","scale":{"domain":[0,50],"nice":false},"axis":{"values":[0,10,20,30,40,50],"grid":false,"title":null}},
   "color":{"field":"k","type":"nominal","scale":{"domain":["SkM*","SLy4","UNEDF1"],"range":["#f46e6e","#5ccf5c","#5f84f0"]},"legend":null}}},
 {"data":{"values":[{"t":"24"}]},"mark":{"type":"text","align":"right","baseline":"alphabetic","dy":-15,"font":"Liberation Serif","fontWeight":"bold","fontSize":20,"color":"#f4f4f4"},
  "encoding":{"text":{"field":"t"},"x":{"datum":26.4,"axis":null},"y":{"datum":32.7,"axis":null}}},
 {"data":{"values":[{"t":"Mg"}]},"mark":{"type":"text","align":"left","baseline":"alphabetic","font":"Liberation Serif","fontWeight":"bold","fontSize":26,"color":"#f4f4f4"},
  "encoding":{"text":{"field":"t"},"x":{"datum":26.4,"axis":{"orient":"top","values":[0,5,10,15,20,25,30,35,40],"labels":false,"grid":false,"title":null}},"y":{"datum":32.7,"axis":{"orient":"right","values":[0,10,20,30,40,50],"labels":false,"grid":false,"title":null}}}}
]},
{"width":149,"height":107,"resolve":{"axis":{"x":"independent","y":"independent"}},"layer":[
 {"data":{"name":"d"},"transform":[{"filter":"datum.n === 'Si'"},{"fold":["UNEDF1","SLy4","SkM*"],"as":["k","v"]}],
  "mark":{"type":"line","interpolate":"monotone","strokeWidth":2,"clip":true},
  "encoding":{"x":{"field":"e","type":"quantitative","scale":{"domain":[0,40],"nice":false},"axis":{"values":[0,5,10,15,20,25,30,35,40],"labelExpr":"datum.value % 10 === 0 ? datum.label : ''","grid":true,"title":null}},
   "y":{"field":"v","type":"quantitative","scale":{"domain":[0,80],"nice":false},"axis":{"values":[0,20,40,60,80],"grid":false,"title":"Cross section [mb]","titleX":-34,"titleY":53.5,"titleAngle":-90,"titleAlign":"center","titleBaseline":"middle"}},
   "color":{"field":"k","type":"nominal","scale":{"domain":["SkM*","SLy4","UNEDF1"],"range":["#f46e6e","#5ccf5c","#5f84f0"]},"legend":null}}},
 {"data":{"values":[{"t":"28"}]},"mark":{"type":"text","align":"right","baseline":"alphabetic","dy":-15,"font":"Liberation Serif","fontWeight":"bold","fontSize":20,"color":"#f4f4f4"},
  "encoding":{"text":{"field":"t"},"x":{"datum":31.9,"axis":null},"y":{"datum":53,"axis":null}}},
 {"data":{"values":[{"t":"Si"}]},"mark":{"type":"text","align":"left","baseline":"alphabetic","font":"Liberation Serif","fontWeight":"bold","fontSize":26,"color":"#f4f4f4"},
  "encoding":{"text":{"field":"t"},"x":{"datum":31.9,"axis":{"orient":"top","values":[0,5,10,15,20,25,30,35,40],"labels":false,"grid":false,"title":null}},"y":{"datum":53,"axis":{"orient":"right","values":[0,20,40,60,80],"labels":false,"grid":false,"title":null}}}}
]},
{"width":149,"height":107,"resolve":{"axis":{"x":"independent","y":"independent"}},"layer":[
 {"data":{"name":"d"},"transform":[{"filter":"datum.n === 'S'"},{"fold":["UNEDF1","SLy4","SkM*"],"as":["k","v"]}],
  "mark":{"type":"line","interpolate":"monotone","strokeWidth":2,"clip":true},
  "encoding":{"x":{"field":"e","type":"quantitative","scale":{"domain":[0,40],"nice":false},"axis":{"values":[0,5,10,15,20,25,30,35,40],"labelExpr":"datum.value % 10 === 0 ? datum.label : ''","grid":true,"title":null}},
   "y":{"field":"v","type":"quantitative","scale":{"domain":[0,120],"nice":false},"axis":{"values":[0,20,40,60,80,100,120],"grid":false,"title":null}},
   "color":{"field":"k","type":"nominal","scale":{"domain":["SkM*","SLy4","UNEDF1"],"range":["#f46e6e","#5ccf5c","#5f84f0"]},"legend":null}}},
 {"data":{"values":[{"t":"32"}]},"mark":{"type":"text","align":"right","baseline":"alphabetic","dy":-15,"font":"Liberation Serif","fontWeight":"bold","fontSize":20,"color":"#f4f4f4"},
  "encoding":{"text":{"field":"t"},"x":{"datum":26,"axis":null},"y":{"datum":80,"axis":null}}},
 {"data":{"values":[{"t":"S"}]},"mark":{"type":"text","align":"left","baseline":"alphabetic","font":"Liberation Serif","fontWeight":"bold","fontSize":26,"color":"#f4f4f4"},
  "encoding":{"text":{"field":"t"},"x":{"datum":26,"axis":{"orient":"top","values":[0,5,10,15,20,25,30,35,40],"labels":false,"grid":false,"title":null}},"y":{"datum":80,"axis":{"orient":"right","values":[0,20,40,60,80,100,120],"labels":false,"grid":false,"title":null}}}}
]},
{"width":149,"height":107,"resolve":{"axis":{"x":"independent","y":"independent"}},"layer":[
 {"data":{"name":"d"},"transform":[{"filter":"datum.n === 'Ar'"},{"fold":["UNEDF1","SLy4","SkM*"],"as":["k","v"]}],
  "mark":{"type":"line","interpolate":"monotone","strokeWidth":2,"clip":true},
  "encoding":{"x":{"field":"e","type":"quantitative","scale":{"domain":[0,40],"nice":false},"axis":{"values":[0,5,10,15,20,25,30,35,40],"labelExpr":"datum.value % 10 === 0 ? datum.label : ''","grid":true,"title":null}},
   "y":{"field":"v","type":"quantitative","scale":{"domain":[0,120],"nice":false},"axis":{"values":[0,20,40,60,80,100,120],"grid":false,"title":null}},
   "color":{"field":"k","type":"nominal","scale":{"domain":["SkM*","SLy4","UNEDF1"],"range":["#f46e6e","#5ccf5c","#5f84f0"]},"legend":null}}},
 {"data":{"values":[{"t":"36"}]},"mark":{"type":"text","align":"right","baseline":"alphabetic","dy":-15,"font":"Liberation Serif","fontWeight":"bold","fontSize":20,"color":"#f4f4f4"},
  "encoding":{"text":{"field":"t"},"x":{"datum":22.1,"axis":null},"y":{"datum":80,"axis":null}}},
 {"data":{"values":[{"t":"Ar"}]},"mark":{"type":"text","align":"left","baseline":"alphabetic","font":"Liberation Serif","fontWeight":"bold","fontSize":26,"color":"#f4f4f4"},
  "encoding":{"text":{"field":"t"},"x":{"datum":22.1,"axis":{"orient":"top","values":[0,5,10,15,20,25,30,35,40],"labels":false,"grid":false,"title":null}},"y":{"datum":80,"axis":{"orient":"right","values":[0,20,40,60,80,100,120],"labels":false,"grid":false,"title":null}}}}
]},
{"width":149,"height":107,"resolve":{"axis":{"x":"independent","y":"independent"}},"layer":[
 {"data":{"name":"d"},"transform":[{"filter":"datum.n === 'Ca'"},{"fold":["UNEDF1","SLy4","SkM*"],"as":["k","v"]}],
  "mark":{"type":"line","interpolate":"monotone","strokeWidth":2,"clip":true},
  "encoding":{"x":{"field":"e","type":"quantitative","scale":{"domain":[0,40],"nice":false},"axis":{"values":[0,5,10,15,20,25,30,35,40],"labelExpr":"datum.value % 10 === 0 ? datum.label : ''","grid":true,"title":"Excitation energy [MeV]"}},
   "y":{"field":"v","type":"quantitative","scale":{"domain":[0,150],"nice":false},"axis":{"values":[0,30,60,90,120,150],"grid":false,"title":null}},
   "color":{"field":"k","type":"nominal","scale":{"domain":["SkM*","SLy4","UNEDF1"],"range":["#f46e6e","#5ccf5c","#5f84f0"]},"legend":null}}},
 {"data":{"values":[{"t":"40"}]},"mark":{"type":"text","align":"right","baseline":"alphabetic","dy":-15,"font":"Liberation Serif","fontWeight":"bold","fontSize":20,"color":"#f4f4f4"},
  "encoding":{"text":{"field":"t"},"x":{"datum":28.8,"axis":null},"y":{"datum":100,"axis":null}}},
 {"data":{"values":[{"t":"Ca"}]},"mark":{"type":"text","align":"left","baseline":"alphabetic","font":"Liberation Serif","fontWeight":"bold","fontSize":26,"color":"#f4f4f4"},
  "encoding":{"text":{"field":"t"},"x":{"datum":28.8,"axis":{"orient":"top","values":[0,5,10,15,20,25,30,35,40],"labels":false,"grid":false,"title":null}},"y":{"datum":100,"axis":{"orient":"right","values":[0,30,60,90,120,150],"labels":false,"grid":false,"title":null}}}}
]},
{"width":149,"height":107,"resolve":{"axis":{"x":"independent","y":"independent"}},"layer":[
 {"data":{"name":"d"},"transform":[{"filter":"datum.n === 'Ti'"},{"fold":["UNEDF1","SLy4","SkM*"],"as":["k","v"]}],
  "mark":{"type":"line","interpolate":"monotone","strokeWidth":2,"clip":true},
  "encoding":{"x":{"field":"e","type":"quantitative","scale":{"domain":[0,40],"nice":false},"axis":{"values":[0,5,10,15,20,25,30,35,40],"labelExpr":"datum.value % 10 === 0 ? datum.label : ''","grid":true,"title":"Excitation energy [MeV]"}},
   "y":{"field":"v","type":"quantitative","scale":{"domain":[0,150],"nice":false},"axis":{"values":[0,30,60,90,120,150],"grid":false,"title":"Cross section [mb]","titleX":-34,"titleY":53.5,"titleAngle":-90,"titleAlign":"center","titleBaseline":"middle"}},
   "color":{"field":"k","type":"nominal","scale":{"domain":["SkM*","SLy4","UNEDF1"],"range":["#f46e6e","#5ccf5c","#5f84f0"]},"legend":null}}},
 {"data":{"values":[{"t":"48"}]},"mark":{"type":"text","align":"right","baseline":"alphabetic","dy":-15,"font":"Liberation Serif","fontWeight":"bold","fontSize":20,"color":"#f4f4f4"},
  "encoding":{"text":{"field":"t"},"x":{"datum":30.1,"axis":null},"y":{"datum":100,"axis":null}}},
 {"data":{"values":[{"t":"Ti"}]},"mark":{"type":"text","align":"left","baseline":"alphabetic","font":"Liberation Serif","fontWeight":"bold","fontSize":26,"color":"#f4f4f4"},
  "encoding":{"text":{"field":"t"},"x":{"datum":30.1,"axis":{"orient":"top","values":[0,5,10,15,20,25,30,35,40],"labels":false,"grid":false,"title":null}},"y":{"datum":100,"axis":{"orient":"right","values":[0,30,60,90,120,150],"labels":false,"grid":false,"title":null}}}}
]},
{"width":149,"height":107,"resolve":{"axis":{"x":"independent","y":"independent"}},"layer":[
 {"data":{"name":"d"},"transform":[{"filter":"datum.n === 'Cr'"},{"fold":["UNEDF1","SLy4","SkM*"],"as":["k","v"]}],
  "mark":{"type":"line","interpolate":"monotone","strokeWidth":2,"clip":true},
  "encoding":{"x":{"field":"e","type":"quantitative","scale":{"domain":[0,40],"nice":false},"axis":{"values":[0,5,10,15,20,25,30,35,40],"labelExpr":"datum.value % 10 === 0 ? datum.label : ''","grid":true,"title":"Excitation energy [MeV]"}},
   "y":{"field":"v","type":"quantitative","scale":{"domain":[0,150],"nice":false},"axis":{"values":[0,30,60,90,120,150],"grid":false,"title":null}},
   "color":{"field":"k","type":"nominal","scale":{"domain":["SkM*","SLy4","UNEDF1"],"range":["#f46e6e","#5ccf5c","#5f84f0"]},"legend":null}}},
 {"data":{"values":[{"t":"52"}]},"mark":{"type":"text","align":"right","baseline":"alphabetic","dy":-15,"font":"Liberation Serif","fontWeight":"bold","fontSize":20,"color":"#f4f4f4"},
  "encoding":{"text":{"field":"t"},"x":{"datum":29,"axis":null},"y":{"datum":100,"axis":null}}},
 {"data":{"values":[{"t":"Cr"}]},"mark":{"type":"text","align":"left","baseline":"alphabetic","font":"Liberation Serif","fontWeight":"bold","fontSize":26,"color":"#f4f4f4"},
  "encoding":{"text":{"field":"t"},"x":{"datum":29,"axis":{"orient":"top","values":[0,5,10,15,20,25,30,35,40],"labels":false,"grid":false,"title":null}},"y":{"datum":100,"axis":{"orient":"right","values":[0,30,60,90,120,150],"labels":false,"grid":false,"title":null}}}}
]},
{"width":149,"height":107,"resolve":{"axis":{"x":"independent","y":"independent"}},"layer":[
 {"data":{"name":"d"},"transform":[{"filter":"datum.n === 'Fe'"},{"fold":["UNEDF1","SLy4","SkM*"],"as":["k","v"]}],
  "mark":{"type":"line","interpolate":"monotone","strokeWidth":2,"clip":true},
  "encoding":{"x":{"field":"e","type":"quantitative","scale":{"domain":[0,40],"nice":false},"axis":{"values":[0,5,10,15,20,25,30,35,40],"labelExpr":"datum.value % 10 === 0 ? datum.label : ''","grid":true,"title":"Excitation energy [MeV]"}},
   "y":{"field":"v","type":"quantitative","scale":{"domain":[0,150],"nice":false},"axis":{"values":[0,30,60,90,120,150],"grid":false,"title":null}},
   "color":{"field":"k","type":"nominal","scale":{"domain":["SkM*","SLy4","UNEDF1"],"range":["#f46e6e","#5ccf5c","#5f84f0"]},"legend":null}}},
 {"data":{"values":[{"t":"56"}]},"mark":{"type":"text","align":"right","baseline":"alphabetic","dy":-15,"font":"Liberation Serif","fontWeight":"bold","fontSize":20,"color":"#f4f4f4"},
  "encoding":{"text":{"field":"t"},"x":{"datum":29.9,"axis":null},"y":{"datum":100,"axis":null}}},
 {"data":{"values":[{"t":"Fe"}]},"mark":{"type":"text","align":"left","baseline":"alphabetic","font":"Liberation Serif","fontWeight":"bold","fontSize":26,"color":"#f4f4f4"},
  "encoding":{"text":{"field":"t"},"x":{"datum":29.9,"axis":{"orient":"top","values":[0,5,10,15,20,25,30,35,40],"labels":false,"grid":false,"title":null}},"y":{"datum":100,"axis":{"orient":"right","values":[0,30,60,90,120,150],"labels":false,"grid":false,"title":null}}}}
]}
],
"config":{
 "font":"Liberation Serif",
 "view":{"stroke":"#d4d4d4","strokeWidth":2,"fill":"black"},
 "axis":{"domain":false,"labelFont":"Liberation Serif","labelFontSize":10.5,"labelColor":"#d6d6d6","labelFlush":false,"labelOverlap":false,"labelPadding":1,"tickColor":"#d4d4d4","tickSize":5,"tickWidth":1.2,"titleFont":"Liberation Serif","titleFontSize":15,"titleFontWeight":"normal","titleColor":"#dedede","titlePadding":3,"gridColor":"#8c8c8c","gridWidth":1,"gridOpacity":1},
 "legend":{"labelFont":"Liberation Serif","titleFont":"Liberation Serif"},
 "text":{"font":"Liberation Serif"}
}
}
